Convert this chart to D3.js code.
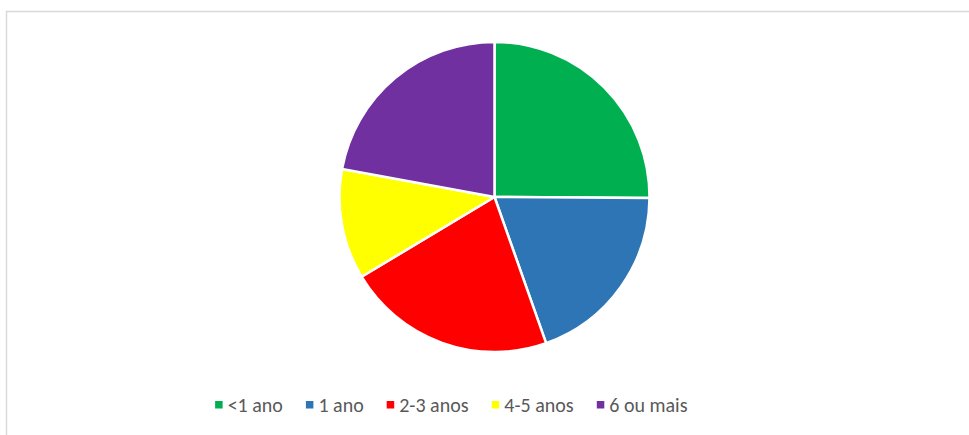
<!DOCTYPE html>
<html>
<head>
<meta charset="utf-8">
<script src="https://cdn.jsdelivr.net/npm/d3@7"></script>
<style>
  body { margin: 0; background: #fff; }
  svg { display: block; }
</style>
</head>
<body>
<div id="container"></div>
<script>
const categories = ["<1 ano", "1 ano", "2-3 anos", "4-5 anos", "6 ou mais"];
const values = [25.1, 19.5, 21.8, 11.5, 22.1];
const colors = ["#00b050", "#2e75b6", "#ff0000", "#ffff00", "#7030a0"];

const w = 969;
const h = 435;
const cx = 494.5, cy = 197, r = 155;

const svg = d3.select("#container")
              .append("svg")
              .attr("width", w)
              .attr("height", h);

// chart area border
svg.append("rect")
   .attr("x", 6.5)
   .attr("y", 11.5)
   .attr("width", w + 20)
   .attr("height", h + 20)
   .attr("fill", "#fff")
   .attr("stroke", "#d9d9d9")
   .attr("stroke-width", 1.5);

const data = categories.map((c, i) => ({name: c, value: values[i], color: colors[i]}));

const pie = d3.pie().sort(null).value(d => d.value);
const arc = d3.arc().innerRadius(0).outerRadius(r);

svg.append("g")
   .attr("transform", "translate(" + cx + "," + cy + ")")
   .selectAll("path")
   .data(pie(data))
   .enter()
   .append("path")
   .attr("d", arc)
   .attr("fill", d => d.data.color)
   .attr("stroke", "#fff")
   .attr("stroke-width", 2.5)
   .attr("stroke-linejoin", "round");

// legend
const legend = svg.append("g");
const items = legend.selectAll("g")
   .data(data)
   .enter()
   .append("g");

items.append("rect")
   .attr("width", 7.5)
   .attr("height", 7.5)
   .attr("y", -11)
   .attr("fill", d => d.color);

items.append("text")
   .attr("x", 12.5)
   .attr("y", 0)
   .attr("font-family", "Carlito, 'Liberation Sans', Arial, sans-serif")
   .attr("font-size", "20px")
   .attr("fill", "#595959")
   .text(d => d.name);

let xPos = 0;
const gap = 23;
items.each(function() {
  const g = d3.select(this);
  g.attr("transform", "translate(" + xPos + ",0)");
  xPos += this.getBBox().width + gap;
});
const total = xPos - gap;
legend.attr("transform", "translate(" + (451.4 - total / 2) + ",412)");
</script>
</body>
</html>
